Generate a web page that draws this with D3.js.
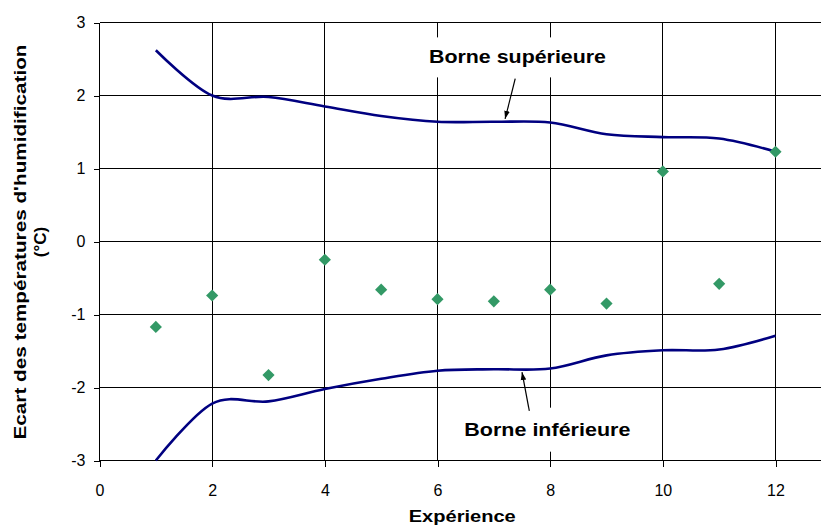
<!DOCTYPE html>
<html><head><meta charset="utf-8">
<script src="https://cdn.jsdelivr.net/npm/d3@7"></script>
<style>
html,body{margin:0;padding:0;background:#fff;}
svg{display:block;font-family:"Liberation Sans",Arial,sans-serif;}
</style></head>
<body>
<svg id="chart" width="821" height="525"></svg>
<script>
// ---- data ----
const experiences = [1,2,3,4,5,6,7,8,9,10,11,12];
const ecart = [-1.17,-0.74,-1.83,-0.25,-0.66,-0.79,-0.82,-0.66,-0.85,0.96,-0.58,1.23];
const borneSup = [2.62,2.00,1.98,1.85,1.72,1.64,1.64,1.63,1.47,1.43,1.41,1.23];
const borneInf = [-3.00,-2.22,-2.19,-2.02,-1.88,-1.77,-1.75,-1.74,-1.56,-1.49,-1.48,-1.29];
const xTicks = [0,2,4,6,8,10,12];
const yTicks = [-3,-2,-1,0,1,2,3];
const xTitle = "Expérience";
const yTitle = ["Ecart des températures d'humidification","(°C)"];
const annotSup = {label:"Borne supérieure", tx:7.42, ty:2.44, ax0:7.38, ay0:2.23, ax1:7.20, ay1:1.68};
const annotInf = {label:"Borne inférieure", tx:7.95, ty:-2.66, ax0:7.63, ay0:-2.32, ax1:7.50, ay1:-1.79};

const svg = d3.select("#chart");
const W = 821;
const x = d3.scaleLinear().domain([0,12]).range([99.5,775.5]);
const y = d3.scaleLinear().domain([-3,3]).range([460.5,22.5]);

// defs
svg.append("defs").append("marker")
  .attr("id","arrow").attr("viewBox","0 0 10 10").attr("refX",10).attr("refY",5)
  .attr("markerWidth",8).attr("markerHeight",8).attr("markerUnits","userSpaceOnUse")
  .attr("orient","auto")
  .append("path").attr("d","M0,1.5 L10,5 L0,8.5 Z").attr("fill","#000");

// gridlines
const grid = svg.append("g");
grid.selectAll("line.h").data(yTicks).join("line")
  .attr("x1",x(0)).attr("x2",W).attr("y1",d=>y(d)).attr("y2",d=>y(d))
  .attr("stroke","#000").attr("stroke-width",1).attr("shape-rendering","crispEdges");
grid.selectAll("line.v").data(xTicks.filter(d=>d>0)).join("line")
  .attr("x1",d=>x(d)).attr("x2",d=>x(d)).attr("y1",y(3)).attr("y2",y(-3))
  .attr("stroke","#000").attr("stroke-width",1).attr("shape-rendering","crispEdges");

// axes
const fmt = d => String(d);
const xAxis = d3.axisBottom(x).tickValues(xTicks).tickFormat(fmt).tickSize(6).tickPadding(18).tickSizeOuter(0);
const gx = svg.append("g").attr("transform",`translate(0,${y(-3)})`).call(xAxis);
const yAxis = d3.axisLeft(y).tickValues(yTicks).tickFormat(fmt).tickSize(6).tickPadding(8).tickSizeOuter(0);
const gy = svg.append("g").attr("transform",`translate(${x(0)},0)`).call(yAxis);
[gx,gy].forEach(g=>{
  g.select(".domain").remove();
  g.selectAll(".tick line").attr("stroke","#000").attr("shape-rendering","crispEdges");
  g.selectAll(".tick text").attr("font-size",16).attr("fill","#000")
    .attr("font-family","'Liberation Sans',Arial,sans-serif");
});
svg.append("line").attr("x1",x(0)).attr("x2",x(0)).attr("y1",y(3)).attr("y2",y(-3))
  .attr("stroke","#000").attr("shape-rendering","crispEdges");

// curves
const line = d3.line().x((d,i)=>x(experiences[i])).y(d=>y(d)).curve(d3.curveCardinal.tension(0));
[borneSup,borneInf].forEach(s=>{
  svg.append("path").datum(s).attr("d",line).attr("fill","none")
    .attr("stroke","#000080").attr("stroke-width",2.6);
});

// points
const diamond = d3.symbol().type(d3.symbolSquare).size(74);
svg.append("g").selectAll("path").data(ecart).join("path")
  .attr("d",diamond)
  .attr("transform",(d,i)=>`translate(${x(experiences[i])},${y(d)}) rotate(45)`)
  .attr("fill","#339966");

// annotations
function annot(a, len, padT, padB){
  const g = svg.append("g");
  const rect = g.append("rect").attr("fill","#fff");
  const t = g.append("text").attr("x",x(a.tx)).attr("y",y(a.ty))
    .attr("text-anchor","middle").attr("font-weight","bold").attr("font-size",18)
    .attr("textLength",len).attr("lengthAdjust","spacingAndGlyphs")
    .text(a.label);
  const bb = t.node().getBBox();
  rect.attr("x",bb.x-6).attr("y",bb.y-padT).attr("width",bb.width+12).attr("height",bb.height+padT+padB);
  svg.append("line").attr("x1",x(a.ax0)).attr("y1",y(a.ay0)).attr("x2",x(a.ax1)).attr("y2",y(a.ay1))
    .attr("stroke","#000").attr("stroke-width",1.2).attr("marker-end","url(#arrow)");
}
annot(annotSup,177,10,10);
annot(annotInf,166,12,12);

// titles
svg.append("text").attr("x",(x(0)+W)/2+2).attr("y",522).attr("text-anchor","middle")
  .attr("font-weight","bold").attr("font-size",17).attr("textLength",107)
  .attr("lengthAdjust","spacingAndGlyphs").text(xTitle);
const yt = svg.append("text").attr("transform","translate(0,242) rotate(-90)")
  .attr("text-anchor","middle").attr("font-weight","bold").attr("font-size",17);
yt.append("tspan").attr("x",0).attr("y",26).attr("textLength",395)
  .attr("lengthAdjust","spacingAndGlyphs").text(yTitle[0]);
yt.append("tspan").attr("x",0).attr("y",46).text(yTitle[1]);
</script>
</body></html>
